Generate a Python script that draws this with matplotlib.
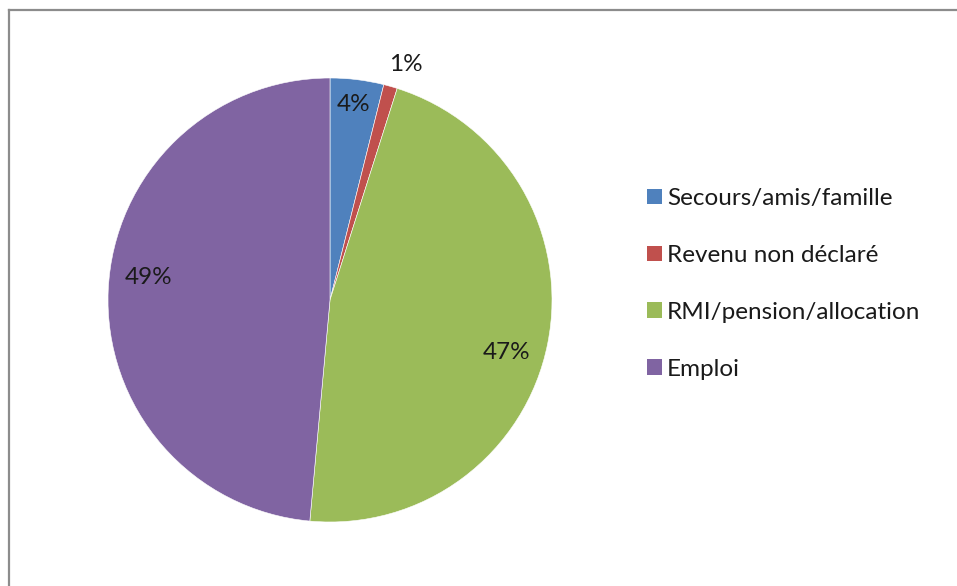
import numpy as np
import matplotlib.pyplot as plt
from matplotlib.lines import Line2D
from matplotlib.patches import Patch

plt.rcParams['font.family'] = ['Lato', 'DejaVu Sans']

# Share of income sources (%)
categories = ['Secours/amis/famille', 'Revenu non déclaré',
              'RMI/pension/allocation', 'Emploi']
shares = [3.9, 1.0, 46.6, 48.6]
colors = ['#4F81BD', '#C0504D', '#9BBB59', '#8064A2']

# label placement: radius (fraction of pie radius) and angular nudge (deg)
label_r = [0.885, 1.115, 0.83, 0.825]
label_nudge = [0, -2, -5, -4.4]

fig = plt.figure(figsize=(9.57, 5.86), dpi=100)
ax = fig.add_axes([108 / 957, 64 / 586, 444 / 957, 444 / 586])

wedges, _ = ax.pie(shares, colors=colors, startangle=90, counterclock=False,
                   wedgeprops=dict(edgecolor='white', linewidth=0.4))
ax.set_xlim(-1, 1)
ax.set_ylim(-1, 1)
ax.set_aspect('equal')
ax.axis('off')

total = sum(shares)
for w, v, r, d in zip(wedges, shares, label_r, label_nudge):
    ang = np.deg2rad((w.theta1 + w.theta2) / 2 + d)
    ax.text(r * np.cos(ang), r * np.sin(ang), f'{100 * v / total:.0f}%',
            ha='center', va='center', fontsize=17.5, color='#1a1a1a')

handles = [Patch(facecolor=c, edgecolor='none') for c in colors]
fig.legend(handles, categories, loc='upper left',
           bbox_to_anchor=(635 / 957, 1 - 176 / 586), frameon=False,
           fontsize=17.5, handlelength=0.62, handleheight=0.62,
           handletextpad=0.2, labelspacing=1.475, borderpad=0,
           labelcolor='#1a1a1a')

# chart area border (top and left edges)
frame_kw = dict(color='#8c8c8c', linewidth=1.6, transform=fig.transFigure)
fig.add_artist(Line2D([9 / 957, 1], [1 - 10 / 586] * 2, **frame_kw))
fig.add_artist(Line2D([9 / 957] * 2, [0, 1 - 10 / 586], **frame_kw))

fig.savefig('out.png', dpi=100)
